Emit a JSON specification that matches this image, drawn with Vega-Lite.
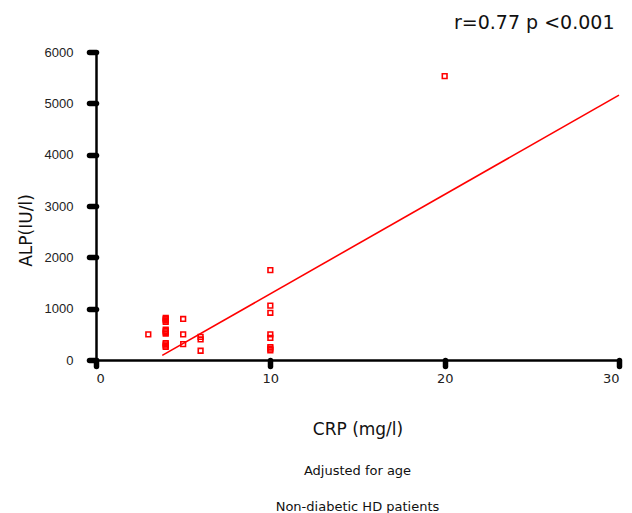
{
  "$schema": "https://vega.github.io/schema/vega-lite/v6.json",
  "width": 523,
  "height": 308,
  "autosize": {"type": "none"},
  "padding": {"left": 96, "top": 52, "right": 13, "bottom": 153},
  "background": "white",
  "config": {
    "view": {"stroke": null},
    "font": "DejaVu Sans",
    "axis": {"labelFont": "DejaVu Sans", "titleFont": "DejaVu Sans", "labelColor": "#222", "titleColor": "#111", "grid": false}
  },
  "title": {
    "text": "Adjusted for age",
    "subtitle": "Non-diabetic HD patients",
    "orient": "bottom",
    "anchor": "middle",
    "font": "DejaVu Sans",
    "subtitleFont": "DejaVu Sans",
    "fontSize": 13,
    "fontWeight": "normal",
    "subtitleFontSize": 13,
    "color": "#111",
    "subtitleColor": "#111",
    "offset": 28,
    "subtitlePadding": 23
  },
  "layer": [
    {
      "data": {"values": [
        {"crp": 3, "alp": 500},
        {"crp": 4, "alp": 820}, {"crp": 4, "alp": 795}, {"crp": 4, "alp": 770}, {"crp": 4, "alp": 745}, {"crp": 4, "alp": 590}, {"crp": 4, "alp": 565}, {"crp": 4, "alp": 540}, {"crp": 4, "alp": 515}, {"crp": 4, "alp": 330}, {"crp": 4, "alp": 305}, {"crp": 4, "alp": 280}, {"crp": 4, "alp": 255},
        {"crp": 5, "alp": 800}, {"crp": 5, "alp": 500}, {"crp": 5, "alp": 310},
        {"crp": 6, "alp": 450}, {"crp": 6, "alp": 400}, {"crp": 6, "alp": 180},
        {"crp": 10, "alp": 1750}, {"crp": 10, "alp": 1060}, {"crp": 10, "alp": 920}, {"crp": 10, "alp": 500}, {"crp": 10, "alp": 430}, {"crp": 10, "alp": 250}, {"crp": 10, "alp": 220}, {"crp": 10, "alp": 190},
        {"crp": 20, "alp": 5530}
      ]},
      "mark": {"type": "point", "shape": "square", "filled": false, "size": 22, "strokeWidth": 1.6, "color": "#ff0000", "opacity": 1},
      "encoding": {
        "x": {"field": "crp", "type": "quantitative", "scale": {"domain": [0, 30], "nice": false},
          "axis": {"orient": "bottom", "values": [0, 10, 20, 30], "format": "d", "title": "CRP (mg/l)", "titleFontSize": 17, "titleFontWeight": "normal", "titlePadding": 36,
            "labelFontSize": 13, "domainColor": "#000", "domainWidth": 2.5, "tickColor": "#000", "tickWidth": 5.5, "tickSize": 6, "tickCap": "round", "labelPadding": 6}},
        "y": {"field": "alp", "type": "quantitative", "scale": {"domain": [0, 6000], "nice": false},
          "axis": {"values": [0, 1000, 2000, 3000, 4000, 5000, 6000], "format": "d", "title": "ALP(IU/l)", "titleFontSize": 17, "titleFontWeight": "normal", "titlePadding": 9, "titleY": 178,
            "labelFont": "Liberation Sans", "labelFontSize": 13, "domainColor": "#000", "domainWidth": 2.5, "tickColor": "#000", "tickWidth": 5.5, "tickSize": 7, "tickCap": "round", "labelPadding": 16}}
      }
    },
    {
      "data": {"values": [{"crp": 3.8, "alp": 90}, {"crp": 30, "alp": 5160}]},
      "mark": {"type": "line", "color": "#ff0000", "strokeWidth": 1.6},
      "encoding": {
        "x": {"field": "crp", "type": "quantitative",
          "axis": {"orient": "top", "domain": false, "ticks": false, "labels": false, "title": "r=0.77 p <0.001", "titleAnchor": "end", "titleX": 518, "titleFontSize": 19, "titleFontWeight": "normal", "titlePadding": 20}},
        "y": {"field": "alp", "type": "quantitative"}
      }
    }
  ],
  "resolve": {"axis": {"x": "independent"}}
}
